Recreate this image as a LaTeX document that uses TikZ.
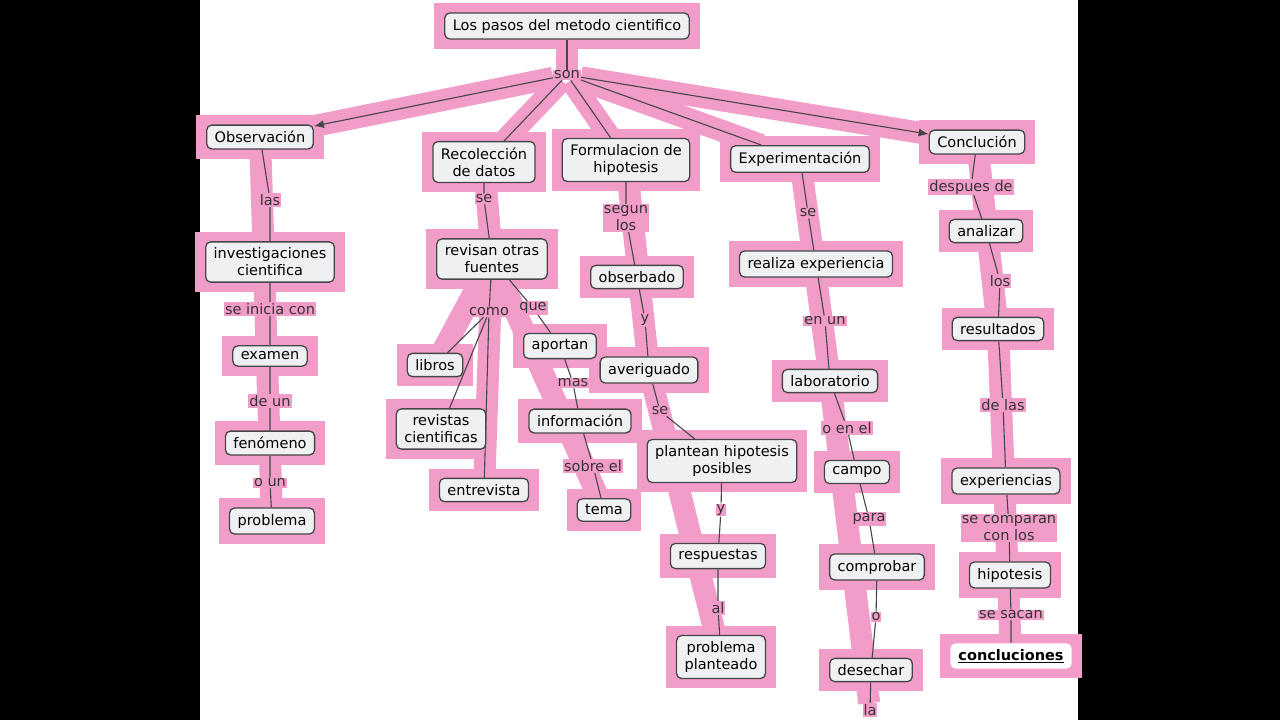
\documentclass[tikz,border=0pt]{standalone}
\usepackage{fontspec}
\setmainfont{DejaVu Sans}
\usetikzlibrary{backgrounds,arrows.meta}
\definecolor{brush}{RGB}{242,156,202}
\definecolor{boxfill}{RGB}{238,240,242}
\definecolor{boxline}{RGB}{70,70,70}

\begin{document}
\begin{tikzpicture}[x=1pt,y=-1pt,
			concept/.style = {rectangle,draw=boxline,fill=boxfill,rounded corners=5pt,line width=1.3pt,
				align=center,inner xsep=8pt,inner ysep=6pt,font=\fontsize{14.5}{17}\selectfont},
			linkword/.style = {fill=brush,inner sep=1pt,align=center,font=\fontsize{14.5}{17}\selectfont,text=black!80},
			link/.style = {draw=boxline,line width=1.1pt},
			linkarrow/.style = {link,-{Latex[length=10pt,width=8pt]}}]

\node[concept] (title) at (567,26) {Los pasos del metodo cientifico};
\node[linkword] (son) at (567,75) {son};

\node[concept] (obs) at (260,137) {Observación};
\node[concept] (recol) at (484,162) {Recolección\\de datos};
\node[concept] (form) at (626,160) {Formulacion de\\hipotesis};
\node[concept] (exper) at (800,159) {Experimentación};
\node[concept] (concl) at (977,142) {Conclución};

% Observacion
\node[linkword] (las) at (270,200) {las};
\node[concept] (invest) at (270,262) {investigaciones\\cientifica};
\node[linkword] (inicia) at (270,309) {se inicia con};
\node[concept] (examen) at (270,356) {examen};
\node[linkword] (deun) at (270,401) {de un};
\node[concept] (fenom) at (270,443) {fenómeno};
\node[linkword] (oun) at (270,483) {o un};
\node[concept] (probl) at (272,521) {problema};

% Recoleccion
\node[linkword] (se1) at (484,199) {se};
\node[concept] (revisan) at (492,259) {revisan otras\\fuentes};
\node[linkword] (como) at (489,312) {como};
\node[linkword] (que) at (533,308) {que};
\node[concept] (libros) at (435,365) {libros};
\node[concept] (revistas) at (441,429) {revistas\\cientificas};
\node[concept] (entrev) at (484,490) {entrevista};
\node[concept] (aportan) at (560,346) {aportan};
\node[linkword] (mas) at (573,383) {mas};
\node[concept] (info) at (580,421) {información};
\node[linkword] (sobre) at (593,466) {sobre el};
\node[concept] (tema) at (604,510) {tema};

% Formulacion
\node[linkword] (segun) at (626,218) {segun\\los};
\node[concept] (obserb) at (637,277) {obserbado};
\node[linkword] (y1) at (645,320) {y};
\node[concept] (averig) at (649,370) {averiguado};
\node[linkword] (se2) at (660,411) {se};
\node[concept] (plantean) at (722,461) {plantean hipotesis\\posibles};
\node[linkword] (y2) at (721,510) {y};
\node[concept] (resp) at (718,556) {respuestas};
\node[linkword] (al) at (718,608) {al};
\node[concept] (planteado) at (721,657) {problema\\planteado};

% Experimentacion
\node[linkword] (se3) at (808,213) {se};
\node[concept] (realiza) at (816,264) {realiza experiencia};
\node[linkword] (enun) at (825,321) {en un};
\node[concept] (labor) at (830,381) {laboratorio};
\node[linkword] (oenel) at (847,428) {o en el};
\node[concept] (campo) at (857,472) {campo};
\node[linkword] (para) at (869,519) {para};
\node[concept] (comprob) at (877,567) {comprobar};
\node[linkword] (o1) at (876,617) {o};
\node[concept] (desech) at (871,670) {desechar};
\node[linkword] (la) at (870,710) {la};

% Conclucion
\node[linkword] (despues) at (971,187) {despues de};
\node[concept] (analiz) at (986,231) {analizar};
\node[linkword] (los) at (1000,281) {los};
\node[concept] (result) at (998,329) {resultados};
\node[linkword] (delas) at (1003,405) {de las};
\node[concept] (experi) at (1006,481) {experiencias};
\node[linkword] (compar) at (1009,528) {se comparan\\con los};
\node[concept] (hipot) at (1010,575) {hipotesis};
\node[linkword] (sacan) at (1011,615) {se sacan};
\node[concept,draw=none,fill=white,font=\fontsize{14.5}{17}\selectfont\bfseries] (conclus) at (1011,656) {\underline{concluciones}};

\begin{scope}[on background layer]
\fill[black] (0,0) rectangle (1280,720);
\fill[white] (200,0) rectangle (1078,720);
% pink brush strokes
\foreach \n in {title,obs,recol,form,exper,concl,invest,examen,fenom,probl,revisan,libros,revistas,entrev,
	aportan,info,tema,obserb,averig,plantean,resp,planteado,realiza,labor,campo,comprob,desech,
	analiz,result,experi,hipot,conclus}
	\fill[brush] ([shift={(-10,-9)}]\n.north west) rectangle ([shift={(10,9)}]\n.south east);
\foreach \a/\b in {title/son,son/obs,son/recol,son/form,son/exper,son/concl,obs/probl,recol/revisan,
	revisan/entrev,revisan/libros,revisan/tema,form/averig,averig/planteado,exper/labor,labor/la,concl/result,result/conclus}
	\draw[brush,line width=22pt] (\a) -- (\b);

\draw[link] (title) -- (son);
\draw[linkarrow] (son) -- (obs);
\draw[link] (son) -- (recol);
\draw[link] (son) -- (form);
\draw[link] (son) -- (exper);
\draw[linkarrow] (son) -- (concl);

\draw[link] (obs) -- (las) -- (invest) -- (inicia) -- (examen) -- (deun) -- (fenom) -- (oun) -- (probl);
\draw[link] (recol) -- (se1) -- (revisan) -- (como);
\draw[link] (revisan) -- (que) -- (aportan) -- (mas) -- (info) -- (sobre) -- (tema);
\draw[link] (como) -- (libros);
\draw[link] (como) -- (revistas);
\draw[link] (como) -- (entrev);
\draw[link] (form) -- (segun) -- (obserb) -- (y1) -- (averig) -- (se2) -- (plantean) -- (y2) -- (resp) -- (al) -- (planteado);
\draw[link] (exper) -- (se3) -- (realiza) -- (enun) -- (labor) -- (oenel) -- (campo) -- (para) -- (comprob) -- (o1) -- (desech) -- (la);
\draw[link] (concl) -- (despues) -- (analiz) -- (los) -- (result) -- (delas) -- (experi) -- (compar) -- (hipot) -- (sacan) -- (conclus);
\end{scope}
\useasboundingbox (0,0) rectangle (1280,720);

\end{tikzpicture}
\end{document}
